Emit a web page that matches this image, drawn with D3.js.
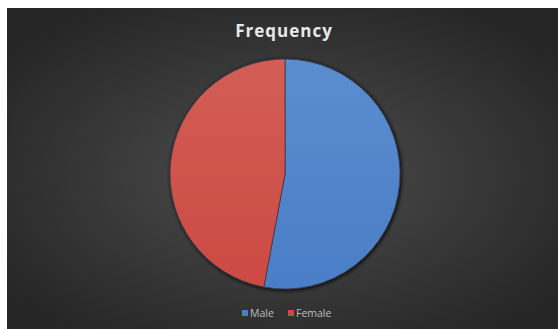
<!DOCTYPE html>
<html>
<head>
<meta charset="utf-8">
<script src="https://cdn.jsdelivr.net/npm/d3@7"></script>
<style>
  body { margin: 0; background: #fff; }
  svg { display: block; }
</style>
</head>
<body>
<svg id="chart" width="558" height="329"></svg>
<script>
var categories = ["Male", "Female"];
var values = [9, 8];
var colors = ["#4a7ec6", "#cc4a42"];
var lightColors = ["#5a8dd0", "#d25e55"];
var title = "Frequency";

var svg = d3.select("#chart");
var defs = svg.append("defs");

// background gradient
var bg = defs.append("radialGradient")
  .attr("id", "bg")
  .attr("cx", "50%").attr("cy", "52%").attr("r", "62%");
bg.append("stop").attr("offset", "0%").attr("stop-color", "#4e4e4e");
bg.append("stop").attr("offset", "100%").attr("stop-color", "#262626");

svg.append("rect")
  .attr("x", 7).attr("y", 8)
  .attr("width", 551).attr("height", 321)
  .attr("fill", "url(#bg)");

// slice gradients
categories.forEach(function (c, i) {
  var g = defs.append("linearGradient")
    .attr("id", "grad" + i)
    .attr("x1", 0).attr("y1", 0).attr("x2", 0).attr("y2", 1);
  g.append("stop").attr("offset", "0%").attr("stop-color", lightColors[i]);
  g.append("stop").attr("offset", "100%").attr("stop-color", colors[i]);
});

var shadow = defs.append("filter").attr("id", "shadow")
  .attr("x", "-10%").attr("y", "-10%").attr("width", "120%").attr("height", "120%");
shadow.append("feGaussianBlur").attr("in", "SourceAlpha").attr("stdDeviation", 2).attr("result", "b");
shadow.append("feOffset").attr("in", "b").attr("dx", 1).attr("dy", 1).attr("result", "o");
var merge = shadow.append("feMerge");
merge.append("feMergeNode").attr("in", "o");
merge.append("feMergeNode").attr("in", "SourceGraphic");

var cx = 285, cy = 174, radius = 115;

var pie = d3.pie().sort(null).value(function (d) { return d; });
var arc = d3.arc().innerRadius(0).outerRadius(radius);

var g = svg.append("g")
  .attr("transform", "translate(" + cx + "," + cy + ")")
  .attr("filter", "url(#shadow)");

g.selectAll("path")
  .data(pie(values))
  .enter()
  .append("path")
  .attr("d", arc)
  .attr("fill", function (d, i) { return "url(#grad" + i + ")"; })
  .attr("stroke", "#3a3a4a")
  .attr("stroke-width", 0.8);

// title
svg.append("text")
  .attr("x", 284).attr("y", 37)
  .attr("text-anchor", "middle")
  .style("font-family", "'Open Sans', sans-serif")
  .style("font-weight", "bold")
  .style("font-size", "17px")
  .style("letter-spacing", "1px")
  .style("fill", "#e8e8e8")
  .text(title);

// legend
var legendX = [242, 288];
var legend = svg.selectAll(".legend")
  .data(categories)
  .enter()
  .append("g")
  .attr("class", "legend")
  .attr("transform", function (d, i) { return "translate(" + legendX[i] + ",313)"; });

legend.append("rect")
  .attr("x", 0).attr("y", -3)
  .attr("width", 6).attr("height", 6)
  .attr("fill", function (d, i) { return colors[i]; });

legend.append("text")
  .attr("x", 8).attr("y", 4)
  .style("font-family", "'Open Sans', sans-serif")
  .style("font-size", "10.5px")
  .style("fill", "#bdbdbd")
  .text(function (d) { return d; });
</script>
</body>
</html>
